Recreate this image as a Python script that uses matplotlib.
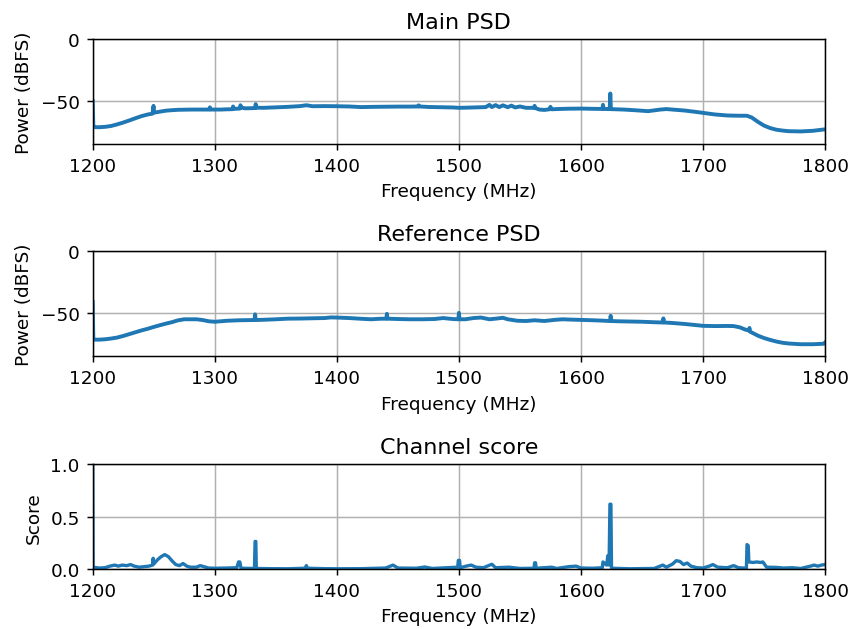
import matplotlib
matplotlib.use("Agg")
import matplotlib.pyplot as plt

# Main PSD trace (MHz, dBFS)
main_freq = [1200, 1200.5, 1201, 1205, 1210, 1215, 1220, 1225, 1230, 1235, 1240, 1245, 1249,
             1249.8, 1250.3, 1255, 1260, 1265, 1270, 1280, 1290, 1295.5, 1296, 1296.5, 1300,
             1305, 1310, 1314.5, 1315, 1315.5, 1318, 1320.5, 1321, 1322, 1325, 1333, 1333.5,
             1334, 1340, 1350, 1360, 1370, 1375, 1380, 1390, 1400, 1410, 1420, 1430, 1440,
             1450, 1460, 1466.5, 1467, 1467.5, 1475, 1485, 1495, 1500, 1505, 1515, 1522, 1525,
             1527, 1530, 1533, 1536, 1540, 1543, 1546, 1550, 1555, 1561.5, 1562, 1562.5, 1566,
             1570, 1574, 1575, 1576, 1580, 1590, 1600, 1610, 1617.5, 1618, 1618.5, 1622,
             1623.5, 1624, 1624.5, 1626, 1635, 1645, 1655, 1665, 1670, 1675, 1685, 1695, 1700,
             1710, 1720, 1730, 1736, 1740, 1745, 1750, 1755, 1760, 1765, 1770, 1780, 1790,
             1795, 1800]
main_db = [-50, -71, -71.2, -71.3, -71, -70.3, -69, -67.5, -65.8, -64, -62.3, -61, -60.3,
           -54, -59.5, -58.7, -57.9, -57.5, -57.2, -57, -57, -57, -55.2, -57, -57,
           -57, -56.8, -56.7, -54.5, -56.5, -56.3, -56.2, -53.5, -55.5, -56, -55.8, -52.6,
           -55.5, -55.6, -55.2, -54.8, -54.2, -53.5, -54.3, -54.2, -54.3, -54.5, -55, -54.8, -54.7,
           -54.6, -54.6, -54.5, -53.6, -54.5, -54.9, -55.1, -55.3, -55.6, -55.5, -55.2, -55, -53.2,
           -55, -53.4, -55, -53.6, -55.1, -53.8, -55.3, -54.5, -55.6, -55.6, -54, -55.8, -57,
           -57.3, -56.8, -54.8, -56.8, -56.6, -56.3, -56.2, -56.4, -56.5, -53.2, -56.5, -56.6,
           -56.6, -44, -56.7, -56.7, -57, -57.6, -58.3, -57, -56.6, -57, -57.8, -59, -59.7,
           -61, -61.8, -62, -62, -63.5, -67, -70, -72, -73.3, -74, -74.5, -74.7, -74.2,
           -73.6, -73]

# Reference PSD trace (MHz, dBFS)
ref_freq = [1200, 1200.5, 1201, 1205, 1210, 1215, 1220, 1225, 1230, 1235, 1240, 1245, 1250,
            1255, 1260, 1265, 1270, 1275, 1280, 1285, 1290, 1295, 1300, 1305, 1310, 1320,
            1332.5, 1333, 1333.5, 1340, 1350, 1360, 1370, 1380, 1390, 1395, 1400, 1410, 1420,
            1428, 1435, 1440.5, 1441, 1441.5, 1450, 1460, 1470, 1480, 1487, 1495, 1499.5, 1500,
            1500.5, 1505, 1512, 1518, 1525, 1530, 1536, 1540, 1548, 1555, 1562, 1570, 1578,
            1585, 1590, 1600, 1610, 1620, 1623.8, 1624.3, 1624.8, 1630, 1640, 1650, 1660, 1667,
            1667.5, 1668, 1675, 1685, 1695, 1700, 1710, 1720, 1725, 1730, 1735, 1737.5, 1738,
            1738.5, 1745, 1750, 1755, 1760, 1765, 1770, 1780, 1790, 1799, 1800]
ref_db = [-41, -71.4, -71.5, -71.5, -71.2, -70.6, -69.8, -68.5, -67, -65.5, -64, -62.7, -61.2,
          -59.8, -58.5, -57.3, -55.8, -55, -55, -55, -55.6, -56.6, -57, -56.6, -56.2, -55.8,
          -55.6, -51, -55.6, -55.4, -55, -54.5, -54.4, -54.2, -54, -53.5, -53.6, -54, -54.6,
          -55, -54.6, -54.5, -50.6, -54.5, -54.8, -55, -55, -54.8, -54, -54.8, -55, -49.8,
          -55, -55, -54, -53.6, -55, -54.5, -53.8, -55, -56.2, -56.4, -55.8, -56.4, -55.5,
          -55, -55.2, -55.5, -55.8, -56.2, -56.4, -52.2, -56.4, -56.6, -56.8, -57, -57.4, -57.6,
          -54.3, -57.6, -58, -58.8, -59.8, -60.3, -60.5, -60.4, -60.5, -61.5, -63.5, -64, -62,
          -65, -68.3, -70.2, -71.7, -73, -74, -74.6, -75.2, -75.2, -74.8, -73.8]

# Channel score trace (MHz, score)
score_freq = [1200, 1200.3, 1205, 1210, 1214, 1218, 1221, 1224, 1228, 1231, 1234, 1238, 1242,
              1246, 1249, 1249.5, 1250, 1253, 1256, 1259, 1262, 1265, 1268, 1271, 1274, 1277,
              1280, 1285, 1288, 1291, 1295, 1300, 1310, 1318, 1319.5, 1320.5, 1321.5, 1332.5,
              1333, 1333.6, 1334, 1345, 1360, 1374, 1375, 1376, 1390, 1400, 1420, 1440, 1446,
              1450, 1465, 1472, 1478, 1490, 1499, 1499.5, 1500.5, 1501, 1506, 1510, 1514, 1520,
              1527, 1530, 1541, 1550, 1561.5, 1562, 1562.8, 1563.2, 1576, 1580, 1590, 1596,
              1600, 1610, 1617.5, 1618, 1621, 1622, 1623, 1623.7, 1624.5, 1625, 1640, 1660,
              1667, 1670, 1675, 1678, 1681, 1684, 1687, 1690, 1695, 1700, 1705, 1708, 1712,
              1720, 1725, 1729, 1735.5, 1736, 1737, 1737.5, 1741, 1744, 1747, 1749, 1752, 1760,
              1766, 1773, 1780, 1788, 1791, 1794, 1797, 1800]
score_val = [1.0, 0.02, 0.012, 0.015, 0.03, 0.04, 0.03, 0.04, 0.035, 0.045, 0.03, 0.02, 0.025,
             0.03, 0.04, 0.105, 0.05, 0.09, 0.12, 0.14, 0.12, 0.08, 0.045, 0.035, 0.055, 0.03,
             0.02, 0.02, 0.035, 0.025, 0.012, 0.01, 0.012, 0.015, 0.07, 0.07, 0.01, 0.008,
             0.265, 0.265, 0.008, 0.006, 0.005, 0.01, 0.035, 0.01, 0.006, 0.005, 0.006, 0.012, 0.04,
             0.012, 0.01, 0.022, 0.008, 0.015, 0.02, 0.085, 0.085, 0.015, 0.03, 0.04, 0.02, 0.015,
             0.048, 0.015, 0.02, 0.008, 0.01, 0.062, 0.062, 0.01, 0.02, 0.008, 0.025, 0.03,
             0.012, 0.01, 0.015, 0.07, 0.04, 0.13, 0.04, 0.62, 0.62, 0.01, 0.005, 0.008,
             0.04, 0.02, 0.05, 0.082, 0.075, 0.045, 0.06, 0.03, 0.015, 0.012, 0.03, 0.045, 0.02,
             0.015, 0.035, 0.015, 0.01, 0.235, 0.225, 0.07, 0.065, 0.07, 0.065, 0.07, 0.02, 0.018,
             0.012, 0.015, 0.008, 0.03, 0.04, 0.03, 0.04, 0.045]

x_ticks = [1200, 1300, 1400, 1500, 1600, 1700, 1800]
color = "#1f77b4"

fig = plt.figure(figsize=(6.4, 4.725), dpi=133.3)
left, width, height = 0.1087, 0.8585, 0.1667
ax_main = fig.add_axes([left, 0.7698, width, height])
ax_ref = fig.add_axes([left, 0.4329, width, height])
ax_score = fig.add_axes([left, 0.0948, width, height])

panels = [
    (ax_main, main_freq, main_db, "Main PSD", "Power (dBFS)", (-85, 0), [-50, 0], 2.1),
    (ax_ref, ref_freq, ref_db, "Reference PSD", "Power (dBFS)", (-85, 0), [-50, 0], 2.1),
    (ax_score, score_freq, score_val, "Channel score", "Score", (0, 1), [0.0, 0.5, 1.0], 1.8),
]
for ax, fx, fy, title, ylabel, ylim, yticks, lw in panels:
    ax.plot(fx, fy, color=color, linewidth=lw)
    ax.set_xlim(1200, 1800)
    ax.set_ylim(*ylim)
    ax.set_xticks(x_ticks)
    ax.set_yticks(yticks)
    ax.set_title(title)
    ax.set_xlabel("Frequency (MHz)")
    ax.set_ylabel(ylabel)
    ax.grid(True)

fig.savefig("out.png", dpi=133.3)
